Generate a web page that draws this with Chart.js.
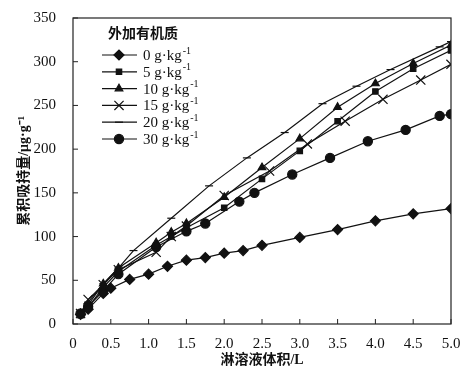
<!DOCTYPE html>
<html>
<head>
<meta charset="utf-8">
<script src="https://cdn.jsdelivr.net/npm/chart.js@4/dist/chart.umd.min.js"></script>
<style>
  html, body { margin: 0; padding: 0; background: #fff; }
  #wrap { width: 473px; height: 372px; }
</style>
</head>
<body>
<div id="wrap"><canvas id="chart" width="473" height="372"></canvas></div>
<script>
// Leaching volume (L) vs cumulative retention (μg·g-1), one pair per organic matter dose
const x0 = [0.1, 0.2, 0.4, 0.5, 0.75, 1.0, 1.25, 1.5, 1.75, 2.0, 2.25, 2.5, 3.0, 3.5, 4.0, 4.5, 5.0];
const y0 = [11, 17, 35, 41, 51, 57, 66, 73, 76, 81, 84, 90, 99, 108, 118, 126, 132];

const x5 = [0.1, 0.2, 0.4, 0.6, 1.1, 1.3, 1.5, 2.0, 2.5, 3.0, 3.5, 4.0, 4.5, 5.0];
const y5 = [10, 19, 42, 60, 90, 100, 110, 133, 166, 198, 232, 266, 292, 313];

const x10 = [0.1, 0.2, 0.4, 0.6, 1.1, 1.3, 1.5, 2.0, 2.5, 3.0, 3.5, 4.0, 4.5, 5.0];
const y10 = [12, 22, 46, 64, 93, 105, 115, 145, 179, 212, 248, 275, 298, 319];

const x15 = [0.1, 0.2, 0.4, 0.6, 1.1, 1.3, 1.5, 2.0, 2.6, 3.1, 3.6, 4.1, 4.6, 5.0];
const y15 = [12, 28, 45, 62, 82, 100, 112, 147, 175, 206, 232, 257, 279, 297];

const x20 = [0.1, 0.2, 0.4, 0.6, 0.8, 1.3, 1.8, 2.3, 2.8, 3.3, 3.75, 4.2, 4.85, 5.0];
const y20 = [12, 25, 46, 64, 84, 121, 158, 190, 219, 252, 272, 291, 317, 323];

const x30 = [0.1, 0.2, 0.4, 0.6, 1.1, 1.5, 1.75, 2.2, 2.4, 2.9, 3.4, 3.9, 4.4, 4.85, 5.0];
const y30 = [12, 20, 38, 57, 88, 106, 115, 140, 150, 171, 190, 209, 222, 238, 240];

const doseLabels = ['0 g·kg', '5 g·kg', '10 g·kg', '15 g·kg', '20 g·kg', '30 g·kg'];
const legendTitle = '外加有机质';
const xTitle = '淋溶液体积/L';
const yTitle = '累积吸持量/μg·g⁻¹';

const SERIF = '"Liberation Serif", "Noto Sans CJK SC", serif';

function pts(xs, ys) {
  return xs.map((x, i) => ({ x: x, y: ys[i] }));
}

const styles = [
  { pointStyle: 'rectRot', radius: 5 },
  { pointStyle: 'rect', radius: 3.8 },
  { pointStyle: 'triangle', radius: 4.4 },
  { pointStyle: 'crossRot', radius: 6.5 },
  { pointStyle: 'line', radius: 4 },
  { pointStyle: 'circle', radius: 4.6 }
];

const series = [pts(x0, y0), pts(x5, y5), pts(x10, y10), pts(x15, y15), pts(x20, y20), pts(x30, y30)];

const datasets = series.map((data, i) => ({
  label: doseLabels[i],
  data: data,
  borderColor: '#111',
  backgroundColor: '#111',
  borderWidth: 1.2,
  pointStyle: styles[i].pointStyle,
  pointRadius: styles[i].radius,
  pointBorderWidth: 1.2,
  pointBorderColor: '#111',
  pointBackgroundColor: '#111',
  tension: 0,
  fill: false
}));

// frame box + inward tick marks
const framePlugin = {
  id: 'frame',
  afterDraw(chart) {
    const { ctx, chartArea: a, scales } = chart;
    ctx.save();
    ctx.strokeStyle = '#222';
    ctx.lineWidth = 1.2;
    ctx.strokeRect(a.left, a.top, a.right - a.left, a.bottom - a.top);
    ctx.lineWidth = 1;
    ctx.beginPath();
    scales.x.ticks.forEach(t => {
      const px = scales.x.getPixelForValue(t.value);
      ctx.moveTo(px, a.bottom);
      ctx.lineTo(px, a.bottom - 5);
    });
    scales.y.ticks.forEach(t => {
      const py = scales.y.getPixelForValue(t.value);
      ctx.moveTo(a.left, py);
      ctx.lineTo(a.left + 5, py);
    });
    ctx.stroke();
    ctx.restore();
  }
};

// legend drawn inside the plot, line + marker + label with superscript
const legendPlugin = {
  id: 'insideLegend',
  afterDatasetsDraw(chart) {
    const { ctx, chartArea: a } = chart;
    const x0 = a.left + 29;
    const top = a.top + 16;
    ctx.save();
    ctx.fillStyle = '#111';
    ctx.textBaseline = 'middle';
    ctx.font = 'bold 14px ' + SERIF;
    ctx.fillText(legendTitle, x0 + 6, top);
    chart.data.datasets.forEach((ds, i) => {
      const y = top + 21 + i * 16.8;
      ctx.strokeStyle = '#111';
      ctx.lineWidth = 1.2;
      ctx.beginPath();
      ctx.moveTo(x0, y);
      ctx.lineTo(x0 + 35, y);
      ctx.stroke();
      Chart.helpers.drawPoint(ctx, {
        pointStyle: ds.pointStyle,
        radius: ds.pointRadius,
        borderWidth: 1.2,
        rotation: 0
      }, x0 + 17, y);
      ctx.font = '15px ' + SERIF;
      ctx.fillText(ds.label, x0 + 41, y + 1);
      const w = ctx.measureText(ds.label).width;
      ctx.font = '10px ' + SERIF;
      ctx.fillText('-1', x0 + 42 + w, y - 4);
    });
    ctx.restore();
  }
};

new Chart(document.getElementById('chart'), {
  type: 'line',
  data: { datasets: datasets },
  plugins: [framePlugin, legendPlugin],
  options: {
    responsive: false,
    animation: false,
    layout: { padding: { top: 13, right: 22, left: 0, bottom: 0 } },
    plugins: {
      legend: { display: false },
      tooltip: { enabled: false }
    },
    scales: {
      x: {
        type: 'linear',
        min: 0,
        max: 5,
        border: { display: false },
        grid: { display: false },
        afterFit(scale) { scale.height = 48; },
        ticks: {
          stepSize: 0.5,
          padding: 3,
          color: '#111',
          font: { family: SERIF, size: 15 },
          maxRotation: 0,
          callback: v => (v === 0 ? '0' : v.toFixed(1))
        },
        title: {
          display: true,
          text: xTitle,
          color: '#111',
          font: { family: SERIF, size: 14, weight: 'bold' },
          padding: { top: 0, bottom: 3 }
        }
      },
      y: {
        min: 0,
        max: 350,
        border: { display: false },
        grid: { display: false },
        afterFit(scale) { scale.width = 73; },
        ticks: {
          stepSize: 50,
          padding: 9,
          color: '#111',
          font: { family: SERIF, size: 15 }
        },
        title: {
          display: true,
          text: yTitle,
          color: '#111',
          font: { family: SERIF, size: 14, weight: 'bold' },
          padding: { top: 16, bottom: 0 }
        }
      }
    }
  }
});
</script>
</body>
</html>
